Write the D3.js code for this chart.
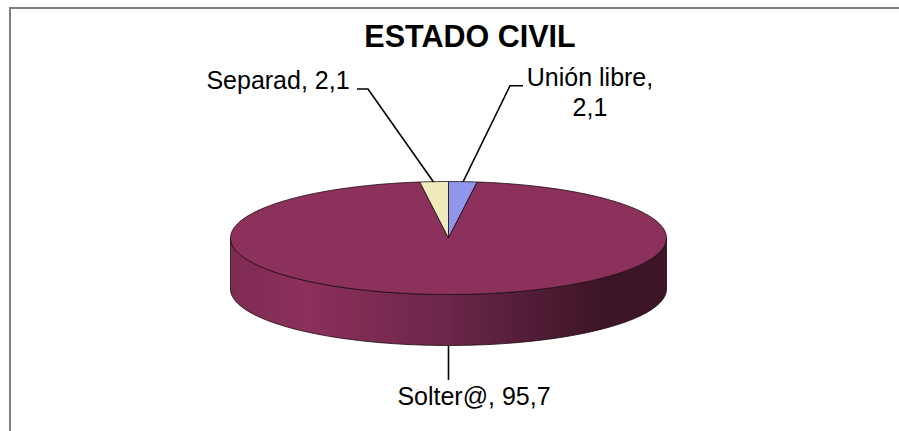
<!DOCTYPE html>
<html><head><meta charset="utf-8"><script src="https://cdn.jsdelivr.net/npm/d3@7/dist/d3.min.js"></script>
<style>html,body{margin:0;padding:0;background:#fff;overflow:hidden}svg{display:block}text{font-family:"Liberation Sans",Arial,sans-serif;fill:#000}</style></head>
<body><svg id="c" width="899" height="431"></svg>
<script>
const categories=["Unión libre","Solter@","Separad"];
const values=[2.1,95.7,2.1];
const colors=["#9195ec","#8c305c","#efebbd"];
const sideStops=[[0,"#7e2b52"],[0.17,"#8c305c"],[0.3,"#7f2c53"],[0.5,"#6b2649"],[0.72,"#4d1b33"],[0.85,"#3e1527"],[1,"#3e1527"]];
const title="ESTADO CIVIL";
const svg=d3.select("#c");
const cx=448.5,cy=238,rx=218,ry=56.5,depth=51;
svg.append("rect").attr("x",10).attr("y",8).attr("width",900).attr("height",440).attr("fill","#fff").attr("stroke","#808080").attr("stroke-width",2);
const defs=svg.append("defs");
const g=defs.append("linearGradient").attr("id","side").attr("gradientUnits","userSpaceOnUse").attr("x1",cx-rx).attr("x2",cx+rx).attr("y1",0).attr("y2",0);
sideStops.forEach(s=>g.append("stop").attr("offset",s[0]).attr("stop-color",s[1]));
const arcs=d3.pie().sort(null).value(d=>d)(values);
const pt=a=>[cx+rx*Math.sin(a),cy-ry*Math.cos(a)];
const steps=d3.range(0,181).map(i=>Math.PI/2+i*Math.PI/180);
const upper=steps.map(pt), lower=steps.map(pt).map(p=>[p[0],p[1]+depth]).reverse();
svg.append("path").attr("d",d3.line()(upper.concat(lower))+"Z").attr("fill","url(#side)").attr("stroke","#1c0a12").attr("stroke-width",0.8);
arcs.forEach((a,i)=>{
 const n=Math.max(2,Math.ceil((a.endAngle-a.startAngle)*60));
 const ps=d3.range(n+1).map(k=>pt(a.startAngle+(a.endAngle-a.startAngle)*k/n));
 svg.append("path").attr("d",d3.line()([[cx,cy]].concat(ps))+"Z").attr("fill",colors[i]).attr("stroke","#1c0a12").attr("stroke-width",0.8).attr("stroke-linejoin","round");
});
const leaders=[[[523,85.7],[510,85.7],[463,182]],[[448.5,346],[448.5,380]],[[357,89],[368,89],[433.5,182]]];
leaders.forEach(l=>svg.append("path").attr("d",d3.line()(l)).attr("fill","none").attr("stroke","#000").attr("stroke-width",1.6));
svg.append("text").attr("x",470).attr("y",47).attr("text-anchor","middle").attr("font-size",30.5).attr("font-weight","bold").text(title);
const fs=25;
const fmt=v=>v.toFixed(1).replace(".",",");
const lab=(t,x,y)=>svg.append("text").attr("x",x).attr("y",y).attr("text-anchor","middle").attr("font-size",fs).text(t);
lab(`${categories[0]},`,590,86);
lab(fmt(values[0]),590,116);
lab(`${categories[2]}, ${fmt(values[2])}`,278,89);
lab(`${categories[1]}, ${fmt(values[1])}`,474,405);
</script></body></html>
